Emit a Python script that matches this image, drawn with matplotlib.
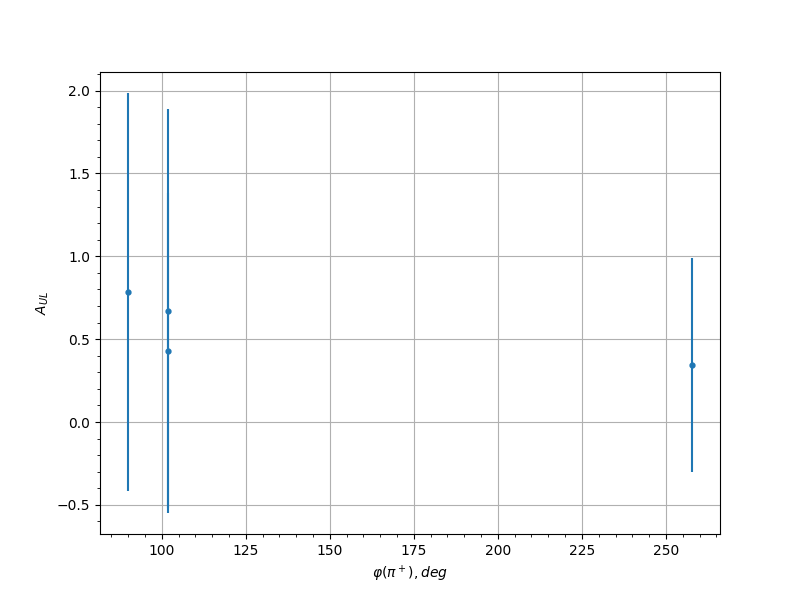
import numpy as np
import matplotlib
matplotlib.use("Agg")
import matplotlib.pyplot as plt

phi = [90.0, 101.8, 101.8, 257.7]
aul = [0.785, 0.671, 0.429, 0.343]
aul_err = [1.2, 1.22, 0.95, 0.647]

fig = plt.figure(figsize=(8, 6), dpi=100)
ax = fig.add_subplot(111)
ax.errorbar(phi, aul, yerr=aul_err, fmt='o', markersize=3.5)
ax.minorticks_on()
ax.grid(which='major')
ax.set_xlabel(r'$\varphi(\pi^+), deg$')
ax.set_ylabel(r'$A_{UL}$')

fig.savefig("out.png")
